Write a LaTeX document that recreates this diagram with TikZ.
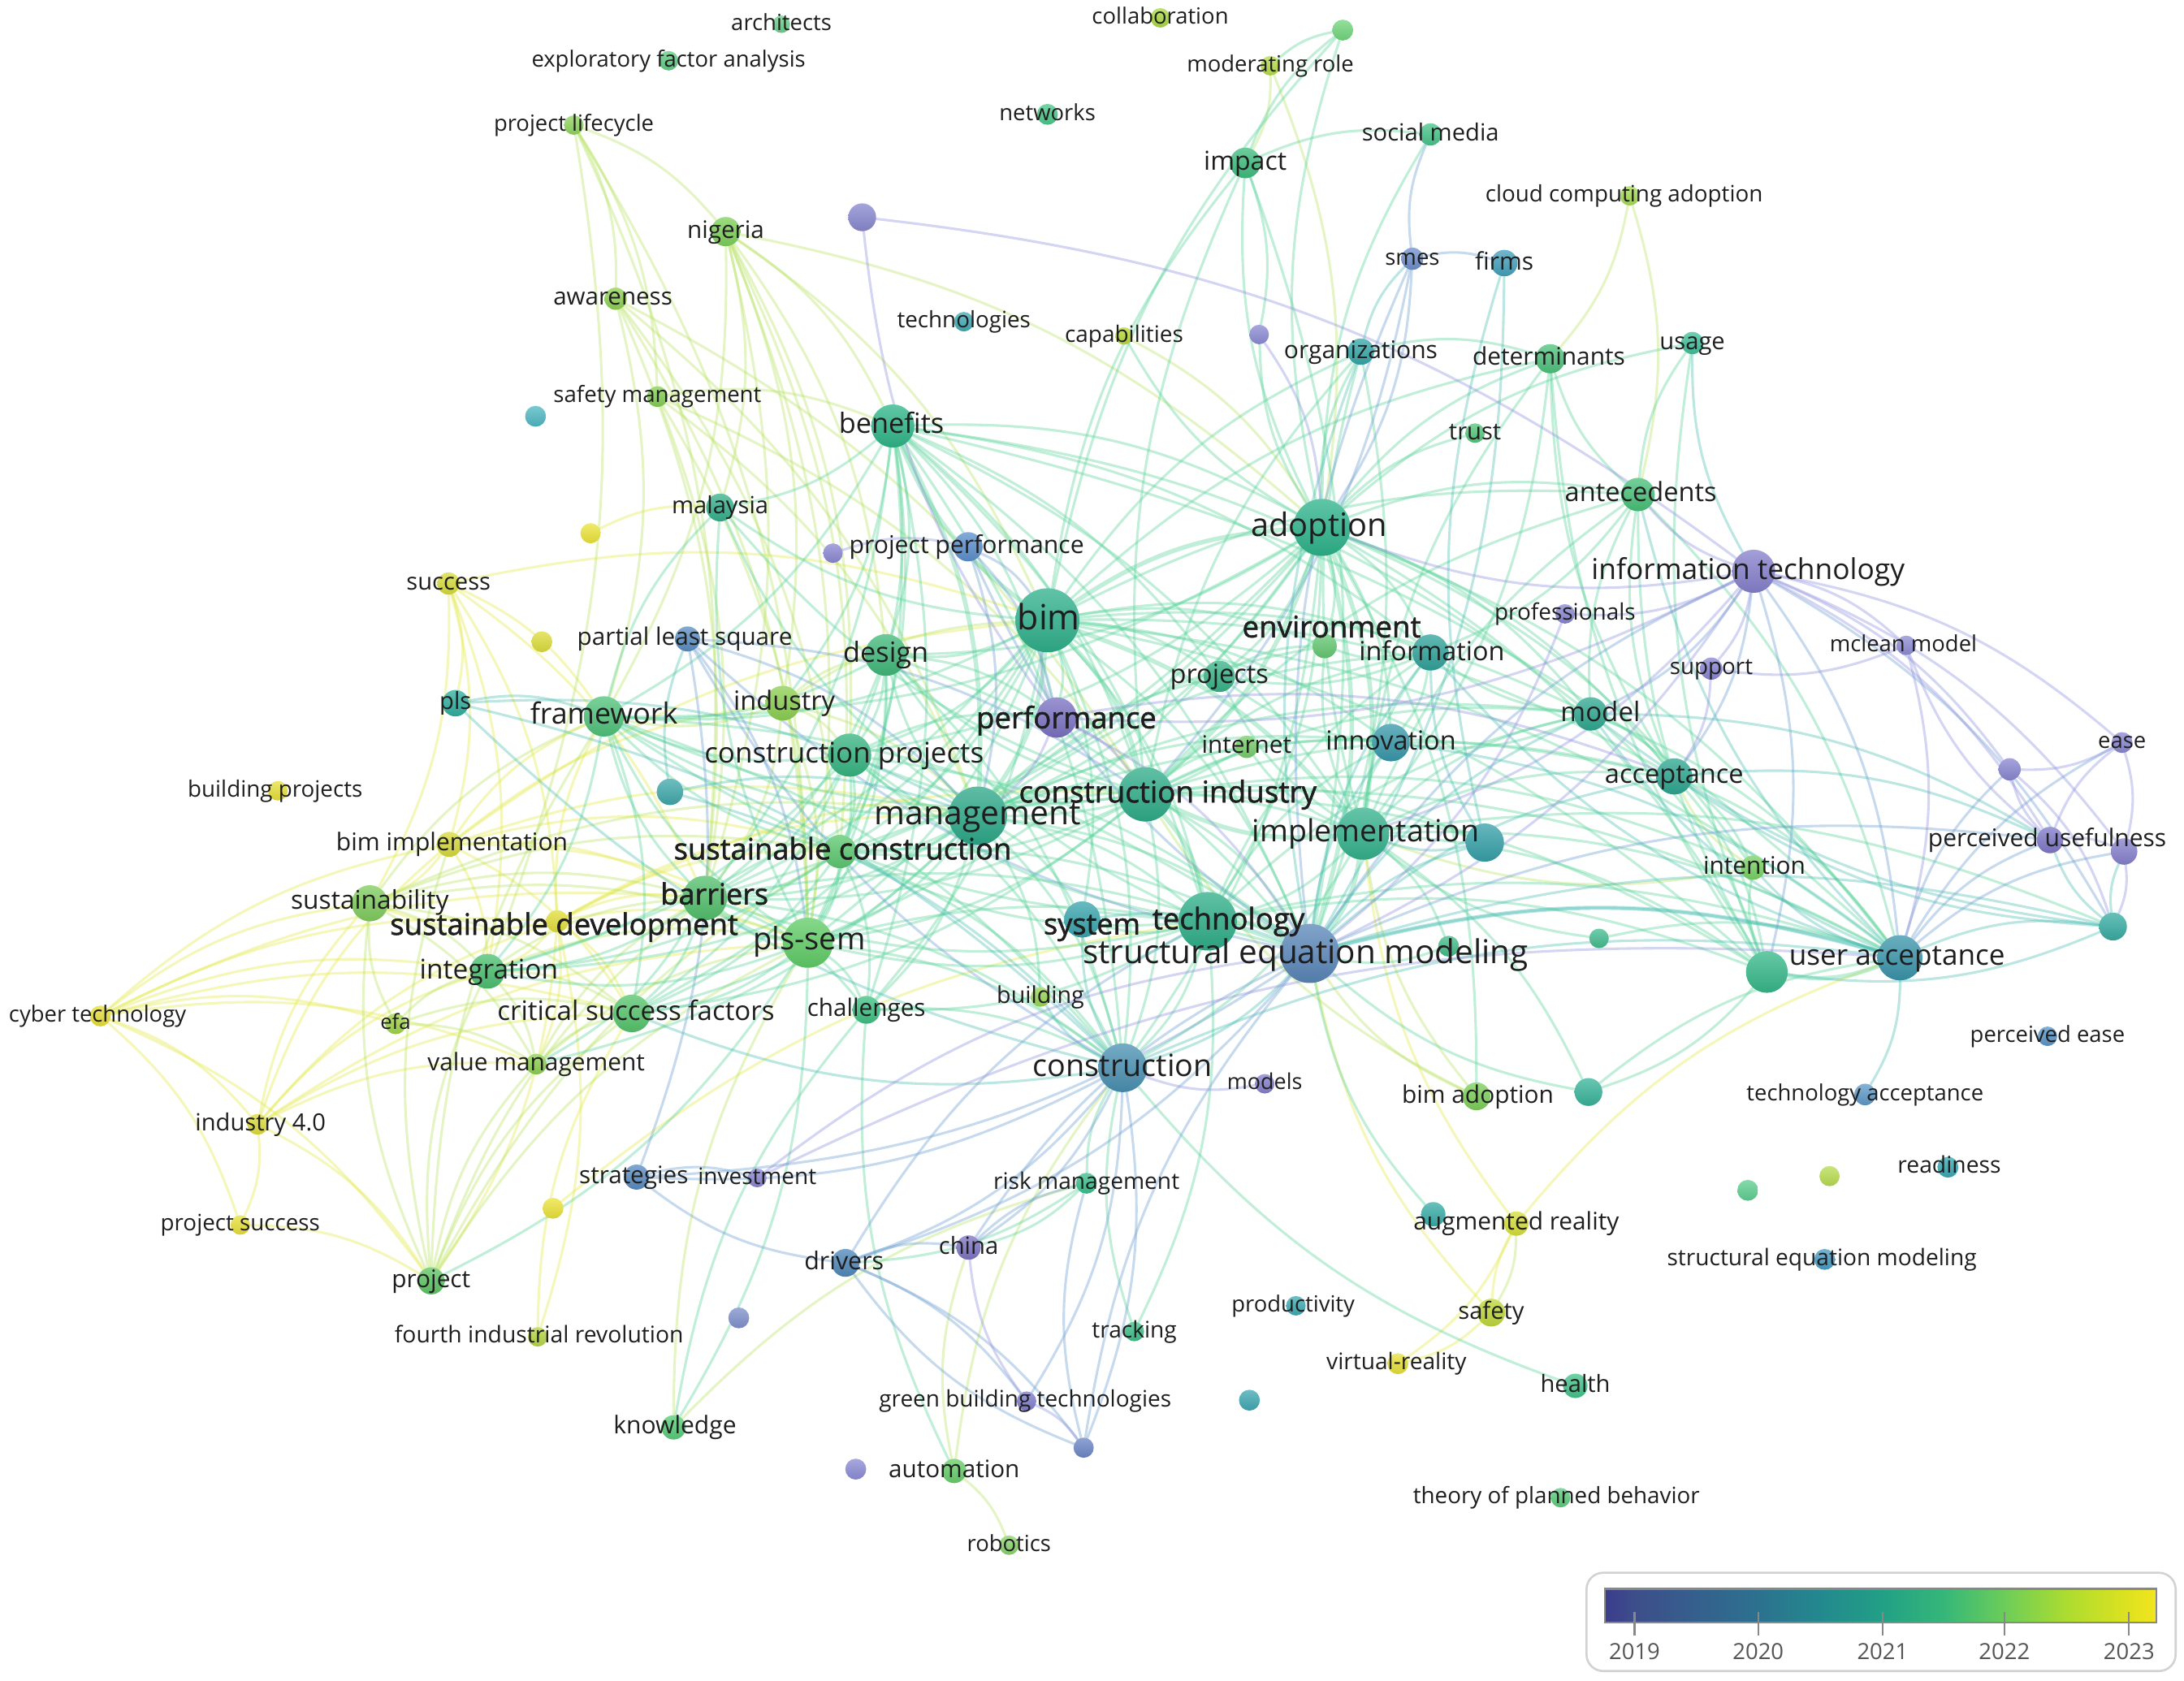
\documentclass[tikz,border=0pt]{standalone}
\usepackage{fontspec}
\setmainfont{Open Sans}
\newfontfamily\sbf[FakeBold=1.5]{Open Sans}
\usetikzlibrary{calc}
\pgfdeclarelayer{bg}
\pgfdeclarelayer{fg}
\pgfsetlayers{bg,main,fg}
\definecolor{eY}{HTML}{E2E84A}
\definecolor{eYG}{HTML}{B8E265}
\definecolor{eG}{HTML}{5AD29A}
\definecolor{eT}{HTML}{4BBDB2}
\definecolor{eB}{HTML}{6C9FD0}
\definecolor{eP}{HTML}{8F90DC}
\definecolor{labcol}{HTML}{1E1E1E}
\definecolor{legbord}{HTML}{D2D2D2}
\definecolor{tickcol}{HTML}{888888}
\definecolor{yearcol}{HTML}{555555}
\tikzset{
  vnode/.style={circle, inner sep=0pt, draw=none},
  lbl/.style={anchor=base, inner sep=0pt, text=labcol},
  lnk/.style={line width=1.8pt, draw opacity=0.38, line cap=round, bend left=15},
}
\newcommand\Nd[5]{\definecolor{c#1}{HTML}{#5}%
  \node[vnode, minimum size=#4pt, top color=c#1!76!white, bottom color=c#1!92!black] (n#1) at (#2,#3) {};}
\newcommand\Lb[6][]{\node[lbl, font={\fontsize{#3}{#3}\selectfont#1}] (l#2) at ([shift={(#4,#5+0.27*#3)}]n#2) {#6};}
\newcommand\E[2]{\foreach \a/\b in {#2}{\draw[lnk,#1] (n\a) to (n\b);}}
\begin{document}
\begin{tikzpicture}[x=1pt,y=-1pt]
\useasboundingbox (0,0) rectangle (1568,1207);
% ---------------- nodes ----------------
\Nd{arch}{561}{17.4}{12.5}{6DD08A}
\Nd{exfa}{480}{43.6}{14}{60CC84}
\Nd{plc}{412}{89.8}{14}{90D65E}
\Nd{collab}{833}{12.8}{14}{A9D944}
\Nd{uone}{964}{21.6}{15}{72D67C}
\Nd{modr}{912}{47.2}{14}{B5DC4A}
\Nd{netw}{752}{82.1}{15}{4CC78A}
\Nd{nig}{521}{166.3}{21}{7ED05A}
\Nd{puone}{619}{156}{20}{8888D0}
\Nd{aware}{442}{214.5}{16}{8FD152}
\Nd{techs}{692}{231}{14}{42AAB6}
\Nd{safem}{472}{284.8}{15}{84CF55}
\Nd{tuzero}{384.5}{298.9}{15}{4FB8C2}
\Nd{ben}{641}{305.9}{31}{2EB588}
\Nd{mal}{517}{364.4}{20}{35B08C}
\Nd{yuone}{424}{382.9}{14.5}{EBE43A}
\Nd{pperf}{695}{392.6}{21}{5C8FCC}
\Nd{putwo}{598}{397.2}{14}{8B87D3}
\Nd{socm}{1027}{96.5}{16}{48C48A}
\Nd{imp}{894}{117}{22}{40BC7E}
\Nd{cloud}{1170}{140.6}{14}{A6DC58}
\Nd{smes}{1014}{185.8}{16}{6E8FCC}
\Nd{firms}{1080}{188.9}{19}{44A0BC}
\Nd{puthree}{904}{240.2}{14}{8C8AD4}
\Nd{capab}{807}{241.2}{12.5}{B8DA3C}
\Nd{org}{977}{252.5}{19}{36A6A8}
\Nd{det}{1113}{257.6}{21}{4EC27C}
\Nd{trust}{1059}{311}{14}{54C67C}
\Nd{ante}{1176}{355.1}{24}{48C078}
\Nd{adop}{949}{378.7}{41}{2DB38A}
\Nd{usage}{1215}{246.3}{16}{40C09A}
\Nd{it}{1259}{410.2}{31}{8680CC}
\Nd{succ}{322}{419}{16}{D7DC3A}
\Nd{yutwo}{389}{460.8}{15}{DEDC3C}
\Nd{pls}{327}{504.9}{19}{30AE9E}
\Nd{bproj}{199.5}{567.8}{14}{E6E03A}
\Nd{bimimp}{322.5}{606.3}{18}{D6DA3C}
\Nd{sust}{265.5}{648.6}{26}{80CC5E}
\Nd{sdev}{400}{661.5}{16}{E2DE3A}
\Nd{integ}{350}{697.4}{25}{4CBF70}
\Nd{cyber}{72}{729.5}{15}{E8DF3A}
\Nd{efa}{284}{735.1}{15}{A0D448}
\Nd{valm}{385}{764.1}{15}{8ECF52}
\Nd{csf}{453.6}{727.7}{27}{56C46C}
\Nd{indfour}{185}{807.3}{15}{DCDC3C}
\Nd{plsq}{493.6}{458.8}{18}{5A8EC2}
\Nd{design}{636}{470.3}{30}{40B87A}
\Nd{bim}{752}{445.4}{46}{2FB08C}
\Nd{indus}{562}{504.9}{25}{8CCF52}
\Nd{frame}{433.6}{514.4}{29}{4FC27A}
\Nd{perf}{758.6}{515.2}{29}{7A72C2}
\Nd{cproj}{610}{542.2}{31}{36B480}
\Nd{tuone}{481}{568.6}{19}{40A8AA}
\Nd{mgmt}{702}{585.8}{42}{2CA888}
\Nd{scon}{603}{611.4}{24}{5CC870}
\Nd{barr}{506}{644.8}{32}{52BF6C}
\Nd{plssem}{580}{676.9}{36}{60CC66}
\Nd{chal}{622}{725.1}{20}{3EC082}
\Nd{build}{747}{715.9}{14}{98D656}
\Nd{system}{777}{660.2}{26}{38A4AC}
\Nd{prof}{1123.6}{440.8}{14}{8886D0}
\Nd{env}{951}{463.9}{17.5}{64C872}
\Nd{info}{1027}{468.5}{26}{30A29A}
\Nd{projs}{875.4}{485.7}{22.5}{38B388}
\Nd{model}{1142}{512.6}{24}{2FA890}
\Nd{inet}{895}{536.3}{16}{78CC6C}
\Nd{innov}{998.6}{533.2}{27}{3898AA}
\Nd{accept}{1202}{557.5}{26}{2CA690}
\Nd{cind}{822.4}{570.4}{39}{2EAC88}
\Nd{impl}{978.6}{598.6}{37.5}{34B28C}
\Nd{tutwo}{1066}{605}{27.5}{36A0A8}
\Nd{tech}{867}{661.5}{42}{2EAE88}
\Nd{sem}{940.4}{684.6}{42.5}{5A86B8}
\Nd{guone}{1040}{679.4}{15}{42BC88}
\Nd{gutwo}{1148}{673.8}{14}{44BC90}
\Nd{constr}{806}{766.7}{35}{4A90B2}
\Nd{models}{908}{778.2}{14}{8480CC}
\Nd{bimad}{1060}{787.2}{20}{7CCF5A}
\Nd{guthree}{1140.4}{784.1}{20}{38B49A}
\Nd{supp}{1228.6}{480.1}{16}{8A86D2}
\Nd{mclean}{1368.5}{463.4}{14}{8E8CD4}
\Nd{ease}{1523.5}{533.2}{15}{8A86D2}
\Nd{pufour}{1442.8}{552.4}{16}{8A86D2}
\Nd{pusef}{1471.8}{603.2}{19}{7E78C8}
\Nd{pufive}{1525}{611.4}{19}{8680CC}
\Nd{intent}{1258.5}{623}{17.5}{78D264}
\Nd{tuthree}{1517}{665.3}{20}{38ACA2}
\Nd{uacc}{1364}{687.7}{32.5}{3A94AA}
\Nd{gufour}{1268.5}{697.9}{30}{36B88A}
\Nd{pease}{1470}{744.1}{14}{5A96C8}
\Nd{tacc}{1339}{785.9}{15.5}{5E9AC8}
\Nd{psucc}{172.5}{879.6}{14}{E8E03A}
\Nd{proj}{309.5}{919.7}{19.5}{5EC464}
\Nd{fir}{386}{959.9}{14}{B6D64A}
\Nd{yuthree}{397}{867.6}{15}{EBE33A}
\Nd{strat}{457}{845.2}{18}{5A8CC2}
\Nd{invest}{543.6}{845.8}{13.5}{8A86D0}
\Nd{riskm}{780}{849.6}{15}{3CBF8C}
\Nd{drivers}{607}{906.8}{20}{4F88BA}
\Nd{china}{695.4}{895.8}{17.5}{7C74C2}
\Nd{buone}{530.4}{946.3}{15}{7F90CC}
\Nd{know}{483.6}{1024.9}{17.5}{58CC78}
\Nd{gbt}{737}{1006.1}{14}{7F7CCC}
\Nd{butwo}{778}{1039.5}{14.5}{6C86C6}
\Nd{pusix}{614.4}{1054.9}{15}{8C8CD6}
\Nd{autom}{685}{1056.2}{17.5}{68CE6A}
\Nd{robot}{724.4}{1109.5}{14}{8AD46E}
\Nd{track}{814.4}{956.1}{14}{3CBF88}
\Nd{produc}{930.4}{937.6}{14}{40AAB2}
\Nd{tufour}{897}{1005.4}{15}{40A8B2}
\Nd{ar}{1088.6}{878.6}{17.5}{D6DF3A}
\Nd{tufive}{1029}{871.9}{17.5}{38ACA6}
\Nd{safety}{1070.6}{942.5}{20}{C0D83A}
\Nd{vr}{1003.6}{979.2}{15}{E6E03A}
\Nd{health}{1131}{995.1}{17.5}{44C28A}
\Nd{tpb}{1120.4}{1075.4}{14}{5CCC7C}
\Nd{gufive}{1254.8}{854.7}{15}{5ECF90}
\Nd{ygu}{1313.5}{844.5}{14.5}{B8DC52}
\Nd{ready}{1398.5}{838.1}{15}{3AA8B2}
\Nd{semtwo}{1310}{904.3}{15}{4A9CC2}
% ---------------- edges ----------------
\begin{pgfonlayer}{bg}
\E{eY}{cyber/sust,cyber/bimimp,cyber/sdev,cyber/integ,cyber/efa,cyber/indfour,cyber/psucc,cyber/valm,cyber/csf,cyber/barr,cyber/proj,
 indfour/sust,indfour/bimimp,indfour/sdev,indfour/integ,indfour/psucc,indfour/valm,indfour/csf,indfour/plssem,indfour/proj,
 succ/pls,succ/frame,succ/bimimp,succ/sdev,succ/barr,succ/sust,succ/bim,succ/integ,
 bimimp/frame,bimimp/barr,bimimp/plssem,bimimp/scon,bimimp/sust,bimimp/integ,bimimp/csf,bimimp/indus,bimimp/mgmt,bimimp/bim,
 sdev/plssem,sdev/barr,sdev/cind,sdev/mgmt,sdev/frame,sdev/sust,sdev/integ,sdev/csf,sdev/valm,sdev/proj,sdev/fir,sdev/scon,
 psucc/proj,yuone/mal,yuthree/tech,fir/csf,ar/vr,safety/vr,safety/sem,ar/impl,ar/uacc}
\draw[lnk,eY,bend right=12] (nar) to (nsafety);
\E{eYG}{efa/valm,efa/integ,efa/csf,efa/sust,proj/sust,proj/integ,proj/csf,proj/valm,proj/plssem,proj/barr,proj/frame,proj/scon,proj/bimimp,
 sust/integ,sust/csf,sust/valm,sust/barr,sust/plssem,sust/frame,sust/scon,sust/mgmt,integ/csf,integ/valm,integ/barr,integ/plssem,
 valm/csf,valm/plssem,valm/barr,plc/nig,plc/aware,plc/safem,plc/barr,plc/plssem,plc/integ,
 nig/barr,nig/plssem,nig/frame,nig/indus,nig/design,nig/cproj,nig/scon,nig/ben,nig/bim,nig/adop,nig/mal,
 aware/barr,aware/plssem,aware/scon,aware/cind,aware/frame,aware/mgmt,safem/plssem,safem/barr,safem/mgmt,safem/cind,safem/ben,
 indus/bim,indus/plssem,indus/barr,indus/frame,indus/design,indus/mgmt,indus/cproj,bimad/impl,bimad/cind,bimad/sem,
 intent/accept,intent/impl,capab/adop,modr/imp,modr/adop,cloud/det,cloud/ante,autom/robot,autom/constr,autom/china,
 know/plssem,know/riskm,ar/safety}
\E{eG}{ben/adop,ben/cind,ben/impl,ben/barr,ben/plssem,ben/frame,ben/design,ben/cproj,ben/tech,ben/constr,ben/model,ben/scon,ben/perf,ben/uacc,ben/mal,ben/indus,ben/sem,ben/info,ben/projs,ben/chal,
 bim/tech,bim/sem,bim/constr,bim/design,bim/barr,bim/plssem,bim/frame,bim/perf,bim/cproj,bim/model,bim/accept,bim/ante,bim/uacc,bim/gufour,bim/info,bim/innov,bim/env,bim/projs,bim/scon,bim/chal,bim/system,bim/org,bim/imp,bim/det,bim/uone,bim/mal,bim/csf,bim/integ,
 adop/imp,adop/org,adop/det,adop/ante,adop/usage,adop/trust,adop/model,adop/accept,adop/gufour,adop/mgmt,adop/tech,adop/constr,adop/design,adop/frame,adop/plssem,adop/barr,adop/cproj,adop/scon,adop/innov,adop/info,adop/intent,adop/bimad,adop/socm,adop/uone,adop/env,adop/projs,adop/uacc,adop/capab,adop/puthree,
 mgmt/impl,mgmt/tech,mgmt/sem,mgmt/constr,mgmt/frame,mgmt/barr,mgmt/plssem,mgmt/design,mgmt/cproj,mgmt/scon,mgmt/csf,mgmt/integ,mgmt/chal,mgmt/build,mgmt/system,mgmt/model,mgmt/accept,mgmt/info,mgmt/innov,mgmt/projs,mgmt/env,mgmt/mal,mgmt/valm,
 cind/sem,cind/constr,cind/barr,cind/plssem,cind/frame,cind/model,cind/accept,cind/uacc,cind/gufour,cind/innov,cind/info,cind/ante,cind/intent,cind/tutwo,cind/design,cind/cproj,cind/scon,cind/csf,cind/mal,cind/inet,cind/imp,cind/org,
 impl/tech,impl/constr,impl/model,impl/accept,impl/uacc,impl/gufour,impl/innov,impl/info,impl/ante,impl/det,impl/tutwo,impl/tuthree,impl/guthree,impl/env,impl/projs,impl/inet,impl/org,impl/guone,
 tech/constr,tech/design,tech/cproj,tech/barr,tech/plssem,tech/frame,tech/scon,tech/system,tech/chal,tech/model,tech/info,tech/innov,tech/gufour,tech/uacc,tech/track,
 design/cproj,design/barr,design/plssem,design/frame,design/scon,design/perf,design/constr,design/sem,
 cproj/barr,cproj/plssem,cproj/frame,cproj/scon,cproj/constr,cproj/sem,cproj/perf,cproj/csf,cproj/integ,
 scon/barr,scon/plssem,scon/frame,scon/csf,scon/integ,scon/constr,scon/sem,scon/chal,
 barr/frame,barr/csf,barr/integ,barr/chal,barr/constr,barr/sem,barr/valm,
 plssem/frame,plssem/csf,plssem/integ,plssem/chal,plssem/constr,plssem/sem,plssem/mal,plssem/proj,plssem/know,
 frame/csf,frame/integ,frame/mal,frame/constr,frame/sem,
 model/accept,model/gufour,model/uacc,model/ante,model/info,model/innov,
 accept/gufour,accept/uacc,accept/ante,accept/intent,accept/det,
 gufour/intent,gufour/ante,gufour/det,gufour/usage,gufour/guthree,
 ante/det,ante/usage,ante/info,ante/uacc,
 info/innov,info/projs,info/env,innov/projs,projs/env,inet/mgmt,imp/socm,imp/uone,imp/sem,imp/puthree,org/det,org/sem,det/impl,modr/uone,
 riskm/constr,riskm/drivers,riskm/china,chal/constr,health/constr,track/constr,guthree/sem,guthree/uacc,guone/sem,gutwo/uacc,gutwo/impl,tufive/sem,autom/chal,know/chal}
\E{eG,line width=3.2pt}{bim/ben,bim/mgmt,bim/adop,bim/cind,ben/mgmt,mgmt/cind,adop/impl,adop/sem,impl/sem,cind/tech,tech/sem,impl/cind,bim/impl,adop/cind,plssem/barr,uacc/gufour}
\E{eT}{sem/uacc,sem/tutwo,sem/innov,sem/info,sem/model,sem/accept,sem/tuthree,sem/constr,constr/uacc,constr/system,constr/build,constr/csf,constr/pls,
 uacc/tuthree,uacc/intent,uacc/info,uacc/tacc,tuthree/pusef,tuthree/pufive,tuthree/accept,tuthree/model,tuthree/gufour,
 tutwo/firms,tutwo/impl,tutwo/info,tuone/mgmt,tuone/constr,tuone/plsq,pls/frame,pls/constr,pls/mgmt,org/smes,system/sem,innov/uacc,it/usage,
 sem/org,firms/sem,uacc/ante,uacc/model,accept/pusef,model/pusef}
\E{eT,line width=3pt}{sem/uacc}
\E{eB}{sem/drivers,sem/strat,sem/plsq,sem/pperf,sem/smes,sem/it,sem/pusef,constr/drivers,constr/strat,constr/plsq,constr/china,constr/butwo,constr/gbt,
 drivers/china,drivers/gbt,drivers/butwo,drivers/strat,drivers/tech,plsq/strat,plsq/cind,plsq/plssem,plsq/mgmt,smes/adop,smes/cind,smes/firms,smes/socm,
 pperf/bim,pperf/mgmt,pperf/perf,butwo/sem,butwo/riskm,china/sem,china/riskm,uacc/pusef,uacc/pufour,uacc/pufive,uacc/ease,
 it/uacc,it/accept,it/model,it/gufour,it/tuthree,strat/invest}
\draw[lnk,eB,bend right=16] (ndrivers) to (nbutwo);
\E{eP}{it/pusef,it/ease,it/mclean,it/supp,it/prof,it/ante,it/adop,it/pufour,it/pufive,it/impl,it/perf,it/sem,pusef/ease,pusef/pufive,pusef/pufour,pusef/mclean,
 ease/pufour,ease/pufive,mclean/supp,perf/mgmt,perf/bim,perf/cind,perf/sem,perf/accept,perf/puone,puone/it,invest/uacc,invest/sem,gbt/butwo,gbt/china,
 prof/sem,supp/accept,putwo/pperf,puthree/adop,models/constr,mclean/uacc,pufive/tuthree,pufour/tuthree}
\end{pgfonlayer}
% ---------------- labels ----------------
\begin{pgfonlayer}{fg}
\Lb{arch}{16}{0}{0}{architects}
\Lb{exfa}{16}{0}{0}{exploratory factor analysis}
\Lb{plc}{16}{0}{0}{project lifecycle}
\Lb{collab}{16}{0}{0}{collaboration}
\Lb{modr}{16}{0}{0}{moderating role}
\Lb{netw}{16}{0}{0}{networks}
\Lb{nig}{17.3}{0}{0}{nigeria}
\Lb{aware}{17.2}{-2}{0}{awareness}
\Lb{techs}{16.2}{0}{0}{technologies}
\Lb{capab}{16.3}{0}{0}{capabilities}
\Lb{safem}{16.1}{0}{0}{safety management}
\Lb{ben}{20}{-1}{0}{benefits}
\Lb{mal}{17}{0}{0}{malaysia}
\Lb{pperf}{17.6}{-1}{0}{project performance}
\Lb{socm}{17}{0}{0}{social media}
\Lb{imp}{18.7}{0}{0}{impact}
\Lb{cloud}{16.2}{-4}{0}{cloud computing adoption}
\Lb{smes}{16}{0}{0}{smes}
\Lb{firms}{17.4}{0}{0}{firms}
\Lb{org}{17.5}{0}{0}{organizations}
\Lb{det}{17.4}{-1}{0}{determinants}
\Lb{trust}{17}{0}{0}{trust}
\Lb{ante}{19}{2}{0}{antecedents}
\Lb{adop}{23.2}{-2}{0}{adoption}
\Lb{usage}{17}{0}{0}{usage}
\Lb{it}{20.6}{-4}{0}{information technology}
\Lb{succ}{17}{0}{0}{success}
\Lb{pls}{17}{0}{0}{pls}
\Lb{bproj}{16.2}{-2}{0}{building projects}
\Lb{bimimp}{17.5}{2}{0}{bim implementation}
\Lb{sust}{18.5}{0}{-1}{sustainability}
\Lb[\sbf]{sdev}{21.3}{5}{4}{sustainable development}
\Lb{integ}{19.5}{1}{0}{integration}
\Lb{cyber}{16}{-2}{0}{cyber technology}
\Lb{efa}{15}{0}{0}{efa}
\Lb{valm}{17.4}{0}{0}{value management}
\Lb{csf}{19.3}{3}{0}{critical success factors}
\Lb{indfour}{17}{2}{0}{industry 4.0}
\Lb{plsq}{17.3}{-2}{0}{partial least square}
\Lb{design}{20}{0}{0}{design}
\Lb{bim}{25}{1}{0}{bim}
\Lb{indus}{19}{1}{0}{industry}
\Lb{frame}{20.9}{0}{0}{framework}
\Lb[\sbf]{perf}{21.3}{7}{2}{performance}
\Lb{cproj}{20.4}{-4}{0}{construction projects}
\Lb{mgmt}{23.8}{0}{0}{management}
\Lb[\sbf]{scon}{21.2}{2}{0}{sustainable construction}
\Lb[\sbf]{barr}{21}{7}{-1}{barriers}
\Lb{plssem}{22.2}{1}{-1}{pls-sem}
\Lb{chal}{17.3}{0}{0}{challenges}
\Lb{build}{16.7}{0}{0}{building}
\Lb[\sbf]{system}{21}{7}{5}{system}
\Lb{prof}{16.3}{0}{0}{professionals}
\Lb[\sbf]{env}{21.4}{5}{-12}{environment}
\Lb{info}{18.9}{1}{1}{information}
\Lb{projs}{19}{0}{0}{projects}
\Lb{model}{19.3}{7}{0}{model}
\Lb{inet}{17.3}{0}{0}{internet}
\Lb{innov}{18.9}{0}{0}{innovation}
\Lb{accept}{19}{0}{0}{acceptance}
\Lb[\sbf]{cind}{21.5}{16}{0}{construction industry}
\Lb{impl}{21.9}{2}{0}{implementation}
\Lb[\sbf]{tech}{21.3}{15}{0}{technology}
\Lb{sem}{23.6}{-3}{1}{structural equation modeling}
\Lb{constr}{22}{0}{0}{construction}
\Lb{models}{15.7}{0}{0}{models}
\Lb{bimad}{17.4}{1}{0}{bim adoption}
\Lb{supp}{16.2}{0}{0}{support}
\Lb{mclean}{16}{-2}{0}{mclean model}
\Lb{ease}{16}{0}{0}{ease}
\Lb{pusef}{17.5}{-2}{0}{perceived usefulness}
\Lb{intent}{17.4}{1}{0}{intention}
\Lb{uacc}{20.5}{-2}{0}{user acceptance}
\Lb{pease}{16}{0}{0}{perceived ease}
\Lb{tacc}{16}{0}{0}{technology acceptance}
\Lb{psucc}{16.2}{0}{0}{project success}
\Lb{proj}{17.4}{0}{0}{project}
\Lb{fir}{16.5}{1}{0}{fourth industrial revolution}
\Lb{strat}{17.3}{-2}{0}{strategies}
\Lb{invest}{16.3}{0}{0}{investment}
\Lb{riskm}{16.4}{0}{0}{risk management}
\Lb{drivers}{17.7}{-1}{0}{drivers}
\Lb{china}{17}{0}{0}{china}
\Lb{know}{17.5}{1}{0}{knowledge}
\Lb{gbt}{16.3}{-1}{0}{green building technologies}
\Lb{autom}{17.3}{0}{0}{automation}
\Lb{robot}{16}{0}{0}{robotics}
\Lb{track}{16.4}{0}{0}{tracking}
\Lb{produc}{16}{-2}{0}{productivity}
\Lb{ar}{17.4}{0}{0}{augmented reality}
\Lb{safety}{17}{0}{0}{safety}
\Lb{vr}{16.4}{-1}{0}{virtual-reality}
\Lb{health}{17}{0}{0}{health}
\Lb{tpb}{16.2}{-3}{0}{theory of planned behavior}
\Lb{ready}{16.5}{1}{0}{readiness}
\Lb{semtwo}{16.4}{-2}{0}{structural equation modeling}
% ---------------- legend ----------------
\draw[draw=legbord, line width=1.5pt, rounded corners=12pt, fill=white] (1139,1129.3) rectangle (1562,1199.9);
\definecolor{lgA}{HTML}{3B3D8D}
\definecolor{lgB}{HTML}{3D4E8A}
\definecolor{lgC}{HTML}{35608D}
\definecolor{lgD}{HTML}{2C718E}
\definecolor{lgE}{HTML}{23898E}
\definecolor{lgF}{HTML}{22A085}
\definecolor{lgG}{HTML}{35B779}
\definecolor{lgH}{HTML}{6CCD59}
\definecolor{lgI}{HTML}{ADDC30}
\definecolor{lgJ}{HTML}{DFE21F}
\definecolor{lgK}{HTML}{F2E51E}
\shade[left color=lgA, right color=lgB] (1152.4,1140.9) rectangle (1173.9,1165.2);
\shade[left color=lgB, right color=lgC] (1173.5,1140.9) rectangle (1218.3,1165.2);
\shade[left color=lgC, right color=lgD] (1217.9,1140.9) rectangle (1262.7,1165.2);
\shade[left color=lgD, right color=lgE] (1262.3,1140.9) rectangle (1307.4,1165.2);
\shade[left color=lgE, right color=lgF] (1307,1140.9) rectangle (1352,1165.2);
\shade[left color=lgF, right color=lgG] (1351.6,1140.9) rectangle (1395.7,1165.2);
\shade[left color=lgG, right color=lgH] (1395.3,1140.9) rectangle (1439.4,1165.2);
\shade[left color=lgH, right color=lgI] (1439,1140.9) rectangle (1484.2,1165.2);
\shade[left color=lgI, right color=lgJ] (1483.8,1140.9) rectangle (1528.9,1165.2);
\shade[left color=lgJ, right color=lgK] (1528.5,1140.9) rectangle (1548,1165.2);
\draw[tickcol, line width=1.3pt] (1152.4,1140.9) rectangle (1548,1165.2);
\foreach \x/\yr in {1173.5/2019,1262.3/2020,1351.6/2021,1439/2022,1528.5/2023}{
  \draw[tickcol, line width=1.3pt] (\x,1157.5) -- (\x,1174.2);
  \node[anchor=base, inner sep=0pt, text=yearcol, font={\fontsize{16}{16}\selectfont}] (yr\yr) at (\x,1191.5) {\yr};
}
\end{pgfonlayer}
\end{tikzpicture}
\end{document}
